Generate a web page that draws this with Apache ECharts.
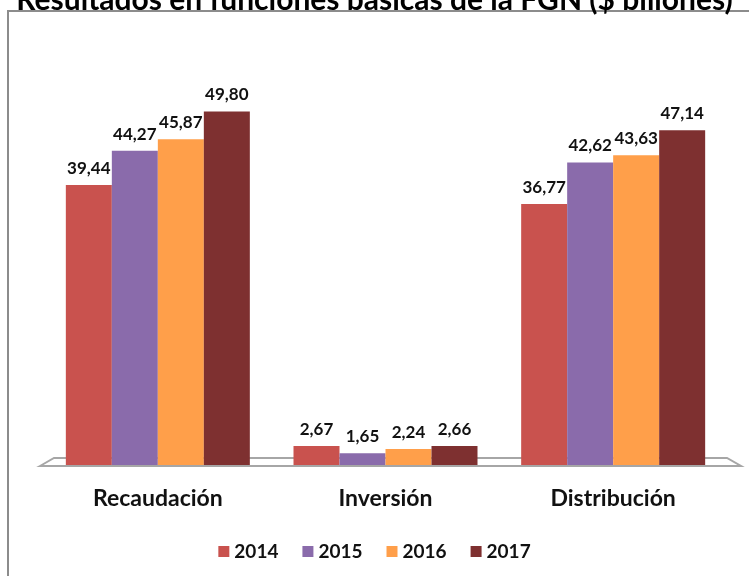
<!DOCTYPE html>
<html>
<head>
<meta charset="utf-8">
<script src="https://cdn.jsdelivr.net/npm/echarts@6/dist/echarts.min.js"></script>
<style>
  html, body { margin: 0; padding: 0; background: #fff; }
  #chart { width: 749px; height: 576px; }
</style>
</head>
<body>
<div id="chart"></div>
<script>
// datos
var categorias = ['Recaudación', 'Inversión', 'Distribución'];
var anios = ['2014', '2015', '2016', '2017'];
var v2014 = [39.44, 2.67, 36.77];
var v2015 = [44.27, 1.65, 42.62];
var v2016 = [45.87, 2.24, 43.63];
var v2017 = [49.80, 2.66, 47.14];
var colores = ['#C9524E', '#8A6BAB', '#FF9F4A', '#7E3030'];

var valores = [v2014, v2015, v2016, v2017];
var fuente = 'Lato, "Open Sans", sans-serif';

var series = [];
for (var i = 0; i < anios.length; i++) {
    series.push({
        name: anios[i],
        type: 'bar',
        barWidth: 46,
        barGap: '0%',
        data: valores[i],
        itemStyle: { color: colores[i] },
        label: {
            show: true,
            position: 'top',
            distance: 8,
            color: '#111',
            fontWeight: 'bold',
            fontSize: 17,
            fontFamily: fuente,
            formatter: function (p) { return p.value.toFixed(2).replace('.', ','); }
        }
    });
}

var chart = echarts.init(document.getElementById('chart'));
chart.setOption({
    animation: false,
    title: {
        text: 'Resultados en funciones básicas de la FGN ($ billones)',
        left: 'center',
        top: -20,
        textStyle: { fontSize: 30, fontWeight: 'bold', color: '#000', fontFamily: fuente }
    },
    graphic: [
        { type: 'rect', shape: { x: 8, y: 11, width: 800, height: 700 },
          style: { fill: 'none', stroke: '#8c8c8c', lineWidth: 2 }, z: -1 },
        { type: 'polygon', shape: { points: [[40, 466], [54, 458], [727, 458], [741, 466]] },
          style: { fill: '#fff', stroke: '#a6a6a6', lineWidth: 2 }, z: -1 }
    ],
    legend: {
        data: anios,
        bottom: 10,
        left: 'center',
        itemWidth: 11,
        itemHeight: 11,
        itemGap: 24,
        icon: 'rect',
        textStyle: { fontSize: 19, fontWeight: 'bold', color: '#111', fontFamily: fuente }
    },
    grid: { left: 44, right: 22, top: 110, bottom: 111 },
    xAxis: {
        type: 'category',
        data: categorias,
        axisLine: { show: false },
        axisTick: { show: false },
        axisLabel: { fontSize: 23, fontWeight: 'bold', color: '#111', margin: 22, fontFamily: fuente }
    },
    yAxis: {
        type: 'value',
        min: 0,
        max: 50,
        show: false,
        splitLine: { show: false }
    },
    series: series
});
</script>
</body>
</html>
